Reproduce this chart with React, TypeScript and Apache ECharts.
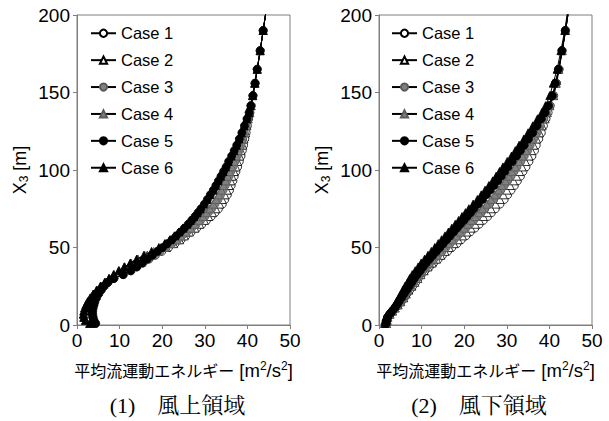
import React, { useEffect, useRef } from "react";
import * as echarts from "echarts";

// Heights X3 [m] of the profile points (shared by all cases)
const heights = [1, 3, 5, 7, 9, 11, 13, 15, 17.5, 20, 22.5, 25, 27.5, 30, 32.5, 35, 37.5, 40, 42.5, 45, 47.5, 50, 52.5, 55, 57.5, 60, 62.5, 65, 67.5, 70, 72.5, 75, 78, 81, 84, 87, 90, 93, 96, 99, 102, 105.5, 109, 112.5, 116, 120, 124, 128.5, 133, 137, 141.5, 148, 156, 165, 177, 190, 203];

const caseNames = ["Case 1", "Case 2", "Case 3", "Case 4", "Case 5", "Case 6"];

// (1) 風上領域 : mean-flow kinetic energy [m2/s2]
const up1 = [4.4, 4.0, 3.8, 3.7, 3.7, 3.8, 4.0, 4.2, 4.6, 5.1, 5.7, 6.4, 7.3, 8.7, 10.9, 12.7, 14.1, 15.5, 16.9, 18.4, 19.9, 21.5, 23.0, 24.4, 25.5, 26.8, 28.1, 29.3, 30.4, 31.5, 32.4, 33.2, 34.1, 34.7, 35.3, 35.8, 36.2, 36.6, 36.9, 37.3, 37.7, 38.1, 38.5, 38.8, 39.1, 39.4, 39.7, 40.0, 40.3, 40.6, 40.9, 41.3, 41.8, 42.3, 43.0, 43.7, 44.4];
const up2 = [3.1, 2.1, 1.7, 1.6, 1.7, 1.9, 2.2, 2.6, 3.2, 3.9, 4.7, 5.6, 6.6, 7.6, 8.7, 9.9, 11.2, 12.7, 14.3, 16.5, 18.6, 21.0, 22.7, 24.1, 25.2, 26.4, 27.7, 28.8, 29.9, 30.9, 31.8, 32.6, 33.5, 34.1, 34.7, 35.2, 35.7, 36.1, 36.4, 36.9, 37.3, 37.7, 38.2, 38.5, 38.9, 39.2, 39.6, 39.9, 40.2, 40.6, 40.9, 41.3, 41.8, 42.3, 43.0, 43.7, 44.4];
const up3 = [4.3, 3.9, 3.7, 3.6, 3.6, 3.7, 3.9, 4.1, 4.5, 5.0, 5.6, 6.3, 7.2, 8.6, 10.8, 12.6, 14.0, 15.4, 16.7, 18.1, 19.5, 20.9, 22.3, 23.6, 24.6, 25.8, 26.9, 28.0, 29.0, 30.0, 30.8, 31.6, 32.4, 33.1, 33.7, 34.3, 34.8, 35.2, 35.7, 36.1, 36.6, 37.1, 37.6, 38.0, 38.5, 38.9, 39.3, 39.7, 40.1, 40.5, 40.9, 41.3, 41.8, 42.3, 43.0, 43.7, 44.4];
const up4 = [3.0, 2.0, 1.6, 1.5, 1.6, 1.8, 2.1, 2.5, 3.1, 3.8, 4.6, 5.5, 6.5, 7.5, 8.6, 9.8, 11.1, 12.6, 14.1, 15.9, 18.0, 20.5, 22.1, 23.4, 24.4, 25.6, 26.7, 27.7, 28.7, 29.6, 30.4, 31.2, 32.0, 32.7, 33.3, 33.9, 34.4, 34.9, 35.4, 35.9, 36.4, 36.9, 37.4, 37.9, 38.3, 38.8, 39.2, 39.7, 40.1, 40.5, 40.8, 41.2, 41.7, 42.3, 43.0, 43.7, 44.4];
const up5 = [4.3, 3.9, 3.7, 3.6, 3.6, 3.7, 3.9, 4.1, 4.5, 5.0, 5.6, 6.3, 7.2, 8.6, 10.8, 12.6, 14.0, 15.3, 16.5, 17.7, 18.9, 20.1, 21.2, 22.3, 23.3, 24.3, 25.2, 26.1, 26.9, 27.7, 28.4, 29.1, 29.9, 30.6, 31.3, 32.0, 32.6, 33.2, 33.8, 34.4, 35.0, 35.6, 36.3, 36.9, 37.5, 38.1, 38.7, 39.3, 39.9, 40.4, 40.8, 41.3, 41.8, 42.3, 43.0, 43.7, 44.4];
const up6 = [3.0, 2.0, 1.6, 1.5, 1.6, 1.8, 2.1, 2.5, 3.1, 3.8, 4.6, 5.5, 6.5, 7.5, 8.6, 9.8, 11.1, 12.5, 14.0, 15.7, 17.5, 19.2, 20.6, 21.8, 22.9, 23.9, 24.9, 25.8, 26.6, 27.4, 28.2, 28.9, 29.7, 30.5, 31.2, 31.9, 32.5, 33.1, 33.7, 34.3, 34.9, 35.5, 36.2, 36.8, 37.4, 38.0, 38.6, 39.2, 39.8, 40.3, 40.7, 41.2, 41.7, 42.3, 43.0, 43.7, 44.4];

// (2) 風下領域
const dn1 = [1.8, 1.9, 2.1, 2.6, 3.2, 3.9, 4.5, 5.2, 5.9, 6.5, 7.2, 7.9, 8.6, 9.2, 9.9, 10.8, 11.8, 12.8, 13.9, 14.9, 16.1, 17.1, 18.3, 19.3, 20.4, 21.4, 22.5, 23.5, 24.5, 25.5, 26.4, 27.3, 28.4, 29.4, 30.2, 31.0, 31.8, 32.5, 33.2, 33.8, 34.5, 35.2, 35.9, 36.5, 36.9, 37.5, 38.1, 38.6, 39.2, 39.7, 40.2, 41.0, 41.7, 42.3, 43.0, 43.8, 44.5];
const dn2 = [1.8, 1.9, 2.1, 2.6, 3.2, 3.8, 4.5, 5.1, 5.8, 6.4, 7.0, 7.7, 8.4, 9.1, 9.8, 10.6, 11.5, 12.5, 13.5, 14.5, 15.5, 16.5, 17.6, 18.6, 19.6, 20.6, 21.6, 22.6, 23.6, 24.5, 25.4, 26.3, 27.4, 28.4, 29.2, 30.0, 30.8, 31.6, 32.3, 33.0, 33.6, 34.4, 35.2, 35.8, 36.3, 37.0, 37.7, 38.3, 39.0, 39.5, 40.1, 41.0, 41.6, 42.2, 43.0, 43.8, 44.5];
const dn3 = [1.8, 1.9, 2.0, 2.5, 3.1, 3.8, 4.4, 5.0, 5.6, 6.2, 6.8, 7.5, 8.1, 8.8, 9.5, 10.3, 11.1, 12.0, 12.9, 13.8, 14.8, 15.7, 16.7, 17.6, 18.5, 19.5, 20.4, 21.3, 22.2, 23.1, 24.0, 24.8, 25.9, 26.9, 27.7, 28.6, 29.4, 30.2, 31.0, 31.7, 32.4, 33.3, 34.1, 34.9, 35.5, 36.3, 37.1, 37.9, 38.7, 39.3, 40.0, 40.9, 41.5, 42.2, 43.0, 43.8, 44.5];
const dn4 = [1.7, 1.8, 2.0, 2.5, 3.1, 3.8, 4.3, 4.9, 5.5, 6.1, 6.8, 7.4, 8.0, 8.7, 9.4, 10.1, 10.9, 11.8, 12.7, 13.6, 14.5, 15.4, 16.4, 17.3, 18.2, 19.1, 20.0, 20.9, 21.7, 22.6, 23.5, 24.3, 25.3, 26.3, 27.2, 28.1, 28.9, 29.7, 30.5, 31.2, 32.0, 32.9, 33.7, 34.5, 35.2, 36.1, 36.9, 37.7, 38.5, 39.3, 40.0, 40.8, 41.5, 42.2, 43.0, 43.8, 44.5];
const dn5 = [1.7, 1.8, 2.0, 2.5, 3.1, 3.7, 4.2, 4.7, 5.3, 5.9, 6.5, 7.1, 7.7, 8.3, 9.0, 9.7, 10.4, 11.1, 11.9, 12.7, 13.5, 14.3, 15.1, 15.9, 16.7, 17.5, 18.3, 19.1, 19.9, 20.7, 21.5, 22.3, 23.3, 24.3, 25.2, 26.1, 27.0, 27.9, 28.7, 29.5, 30.3, 31.3, 32.3, 33.2, 34.1, 35.1, 36.1, 37.1, 38.1, 39.0, 39.8, 40.7, 41.4, 42.1, 42.9, 43.7, 44.4];
const dn6 = [1.3, 1.4, 1.6, 2.1, 2.7, 3.2, 3.7, 4.1, 4.6, 5.1, 5.6, 6.1, 6.7, 7.2, 7.8, 8.5, 9.2, 9.9, 10.7, 11.5, 12.3, 13.1, 13.9, 14.7, 15.5, 16.3, 17.1, 17.9, 18.7, 19.5, 20.3, 21.1, 22.1, 23.1, 24.0, 24.9, 25.8, 26.7, 27.5, 28.3, 29.1, 30.1, 31.1, 32.0, 32.9, 34.0, 35.0, 36.1, 37.2, 38.2, 39.1, 40.1, 40.9, 41.8, 42.7, 43.6, 44.3];

const upCases = [up1, up2, up3, up4, up5, up6];
const downCases = [dn1, dn2, dn3, dn4, dn5, dn6];

const xTicks = { min: 0, max: 50, interval: 10 };
const yTicks = { min: 0, max: 200, interval: 50 };

const captions = ["(1)\u3000風上領域", "(2)\u3000風下領域"];

const SANS = '"Liberation Sans", Arial, "DejaVu Sans", "Noto Sans CJK JP", sans-serif';
const CJK = '"Noto Sans CJK JP", "Liberation Sans", sans-serif';
const SERIF = '"Liberation Serif", "Noto Serif CJK JP", "Noto Sans CJK JP", serif';
const AX = "#7f7f7f";

const markerLook = [
  { symbol: "circle", fill: "#ffffff", border: "#000000" },
  { symbol: "triangle", fill: "#ffffff", border: "#000000" },
  { symbol: "circle", fill: "#808080", border: "#5a5a5a" },
  { symbol: "triangle", fill: "#808080", border: "#5a5a5a" },
  { symbol: "circle", fill: "#000000", border: "#000000" },
  { symbol: "triangle", fill: "#000000", border: "#000000" },
];

const gridBoxes = [
  { left: 77, top: 15, width: 213, height: 310 },
  { left: 379, top: 15, width: 213, height: 310 },
];

function toPoints(xs: number[]) {
  return xs.map((x, i) => [x, heights[i]]);
}

export default function App() {
  const ref = useRef<HTMLDivElement>(null);

  useEffect(() => {
    if (!ref.current) return;
    const chart = echarts.init(ref.current, undefined, { renderer: "svg" });

    const xName = "{j|平均流運動エネルギー}{l| [m}{s|2}{l|/s}{s|2}{l|]}";
    const yName = "{l|X}{b|3}{l| [m]}";

    const series: any[] = [];
    [upCases, downCases].forEach((cases, p) => {
      cases.forEach((xs, k) => {
        const look = markerLook[k];
        series.push({
          name: caseNames[k],
          type: "line",
          xAxisIndex: p,
          yAxisIndex: p,
          data: toPoints(xs),
          symbol: look.symbol,
          symbolSize: 8,
          showAllSymbol: true,
          clip: true,
          lineStyle: { color: "#000000", width: 1 },
          itemStyle: { color: look.fill, borderColor: look.border, borderWidth: 0.8 },
          emphasis: { disabled: true },
          z: 2 + k,
        });
      });
    });

    const option: any = {
      animation: false,
      grid: gridBoxes.map((g) => ({
        ...g,
        show: true,
        borderColor: AX,
        borderWidth: 1,
        backgroundColor: "transparent",
        containLabel: false,
      })),
      xAxis: [0, 1].map((i) => ({
        gridIndex: i,
        type: "value",
        ...xTicks,
        name: xName,
        nameLocation: "middle",
        nameGap: 35,
        nameTextStyle: {
          color: "#000",
          rich: {
            j: { fontSize: 16, fontFamily: CJK, color: "#000", lineHeight: 20 },
            l: { fontSize: 18.5, fontFamily: SANS, color: "#000", lineHeight: 20 },
            s: { fontSize: 12, fontFamily: SANS, color: "#000", padding: [0, 0, 9, 0], lineHeight: 12 },
          },
        },
        axisLine: { show: true, onZero: false, lineStyle: { color: AX, width: 1 } },
        axisTick: { show: true, inside: false, length: 4, lineStyle: { color: AX } },
        axisLabel: { fontSize: 19, color: "#000", fontFamily: SANS, margin: 6 },
        splitLine: { show: false },
      })),
      yAxis: [0, 1].map((i) => ({
        gridIndex: i,
        type: "value",
        ...yTicks,
        name: yName,
        nameLocation: "middle",
        nameGap: 48,
        nameRotate: 90,
        nameTextStyle: {
          color: "#000",
          rich: {
            l: { fontSize: 18, fontFamily: SANS, color: "#000", lineHeight: 18 },
            b: { fontSize: 12, fontFamily: SANS, color: "#000", padding: [8, 0, 0, 0], lineHeight: 12 },
          },
        },
        axisLine: { show: true, onZero: false, lineStyle: { color: AX, width: 1 } },
        axisTick: { show: true, inside: false, length: 4, lineStyle: { color: AX } },
        axisLabel: { fontSize: 19, color: "#000", fontFamily: SANS, margin: 7 },
        splitLine: { show: false },
      })),
      legend: [0, 1].map((i) => ({
        orient: "vertical",
        left: i === 0 ? 90 : 391,
        top: 25,
        padding: 0,
        itemWidth: 25,
        itemHeight: 9,
        itemGap: 10.4,
        selectedMode: false,
        data: caseNames,
        textStyle: { fontSize: 16.5, color: "#000", fontFamily: SANS },
      })),
      graphic: captions.map((c, i) => ({
        type: "text",
        x: i === 0 ? 177.5 : 479,
        y: 405,
        style: {
          text: c,
          fontSize: 22,
          fontFamily: SERIF,
          fill: "#000",
          textAlign: "center",
          textVerticalAlign: "middle",
        },
      })),
      series,
    };

    chart.setOption(option);
    return () => chart.dispose();
  }, []);

  return (
    <div
      ref={ref}
      style={{ position: "fixed", left: 0, top: 0, width: 609, height: 421, background: "#fff" }}
    />
  );
}
